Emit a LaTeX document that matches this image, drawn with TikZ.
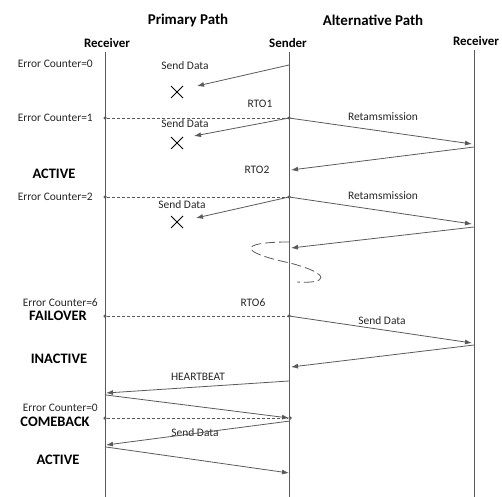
\documentclass[tikz,border=0pt]{standalone}
\usepackage{fontspec}
\setmainfont{Carlito}
\usetikzlibrary{arrows.meta,shapes.misc}
\definecolor{ln}{HTML}{5A5A5A}
\tikzset{
  life/.style={draw=ln, line width=0.8bp},
  msg/.style={draw=ln, line width=0.8bp, -{Latex[length=7bp,width=5bp]}},
  sync/.style={draw=ln, line width=0.7bp, dashed, dash pattern=on 3bp off 2bp},
  dotp/.style={circle, fill=ln, inner sep=0pt, minimum size=3.5bp},
  lbl/.style={font=\fontsize{11.5}{13}\selectfont, inner sep=0pt, text=black!85},
  state/.style={font=\fontsize{14.5}{16}\selectfont\bfseries, inner sep=0pt},
  head/.style={font=\fontsize{15}{17}\selectfont\bfseries, inner sep=0pt},
  role/.style={font=\fontsize{13}{15}\selectfont\bfseries, inner sep=0pt},
  lost/.style={cross out, draw=black, line width=1bp, inner sep=0pt, minimum size=11bp}
}
\begin{document}
\begin{tikzpicture}[x=1bp,y=-1bp]
\useasboundingbox (0,0) rectangle (502,497);
% headings
\node[head] (hp) at (188,20) {Primary Path};
\node[head] (ha) at (373,20) {Alternative Path};
\node[role] (rl) at (107,43) {Receiver};
\node[role] (sd) at (288,43) {Sender};
\node[role] (rr) at (476,41) {Receiver};
% lifelines
\coordinate (L0) at (105,52); \coordinate (L1) at (105,497);
\coordinate (S0) at (289,52); \coordinate (S1) at (289,497);
\coordinate (R0) at (474,50); \coordinate (R1) at (474,497);
\draw[life] (L0) -- (L1);
\draw[life] (S0) -- (S1);
\draw[life] (R0) -- (R1);
% left labels
\node[lbl, anchor=east] (e0) at (93,64) {Error Counter=0};
\node[lbl, anchor=east] (e1) at (93,118) {Error Counter=1};
\node[state] (ac1) at (54,174) {ACTIVE};
\node[lbl, anchor=east] (e2) at (93,197) {Error Counter=2};
\node[lbl, anchor=east] (e6) at (98,303) {Error Counter=6};
\node[state] (fo) at (58,316) {FAILOVER};
\node[state] (in) at (59,359) {INACTIVE};
\node[lbl, anchor=east] (e7) at (98,408) {Error Counter=0};
\node[state] (cb) at (55,422) {COMEBACK};
\node[state] (ac2) at (58,460) {ACTIVE};
% timeout labels
\node[lbl] (rto1) at (260,104) {RTO1};
\node[lbl] (rto2) at (257,170) {RTO2};
\node[lbl] (rto6) at (253,303) {RTO6};
% message labels
\node[lbl] (sd1) at (185,66) {Send Data};
\node[lbl] (sd2) at (185,124) {Send Data};
\node[lbl] (sd3) at (182,205) {Send Data};
\node[lbl] (rt1) at (383,117) {Retamsmission};
\node[lbl] (rt2) at (383,196) {Retamsmission};
\node[lbl] (sd4) at (382,321) {Send Data};
\node[lbl] (hb) at (198,377) {HEARTBEAT};
\node[lbl] (sd5) at (195,433) {Send Data};
% lost packets
\node[lost] (x1) at (177,92) {};
\node[lost] (x2) at (177,143) {};
\node[lost] (x3) at (177,222) {};
% sync points
\node[dotp] (d1l) at (105,118) {}; \node[dotp] (d1s) at (289,118) {};
\node[dotp] (d2l) at (105,197) {}; \node[dotp] (d2s) at (289,197) {};
\node[dotp] (d3l) at (105,316) {}; \node[dotp] (d3s) at (289,316) {};
\node[dotp] (d4l) at (105,418) {}; \node[dotp] (d4s) at (290,418) {};
\draw[sync] (d1l) -- (d1s);
\draw[sync] (d2l) -- (d2s);
\draw[sync] (d3l) -- (d3s);
\draw[sync] (d4l) -- (d4s);
% message end points
\coordinate (a1s) at (289,65);  \coordinate (a1e) at (197,86);
\coordinate (a2e) at (194,136);
\coordinate (a3e) at (472,144);
\coordinate (a4s) at (474,147); \coordinate (a4e) at (291,170);
\coordinate (a5e) at (196,218);
\coordinate (a6e) at (472,224);
\coordinate (a7s) at (474,227); \coordinate (a7e) at (291,248);
\coordinate (a8e) at (472,343);
\coordinate (a9s) at (474,345); \coordinate (a9e) at (291,367);
\coordinate (a10s) at (289,381); \coordinate (a10e) at (106,393);
\coordinate (a11s) at (106,395); \coordinate (a11e) at (289,418);
\coordinate (a12s) at (290,421); \coordinate (a12e) at (106,445);
\coordinate (a13s) at (106,447); \coordinate (a13e) at (289,473);
\draw[msg] (a1s) -- (a1e);
\draw[msg] (d1s.center) -- (a2e);
\draw[msg] (d1s.center) -- (a3e);
\draw[msg] (a4s) -- (a4e);
\draw[msg] (d2s.center) -- (a5e);
\draw[msg] (d2s.center) -- (a6e);
\draw[msg] (a7s) -- (a7e);
\draw[msg] (d3s.center) -- (a8e);
\draw[msg] (a9s) -- (a9e);
\draw[msg] (a10s) -- (a10e);
\draw[msg] (a11s) -- (a11e);
\draw[msg] (a12s) -- (a12e);
\draw[msg] (a13s) -- (a13e);
% time gap squiggle
\coordinate (g0) at (289,242);
\coordinate (g1) at (290,263);
\coordinate (g2) at (297,282);
\draw[ln, line width=0.8bp, dash pattern=on 10bp off 4bp]
  (g0) .. controls (238,242) and (238,252) .. (g1)
       .. controls (332,274) and (328,284) .. (g2);
\end{tikzpicture}
\end{document}
